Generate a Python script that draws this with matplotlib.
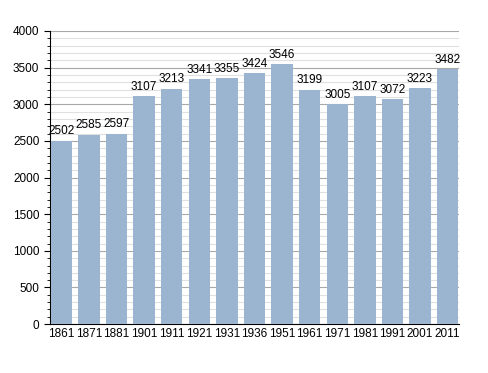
import matplotlib.pyplot as plt
from matplotlib.ticker import MultipleLocator

plt.rcParams['font.family'] = ['Liberation Sans', 'DejaVu Sans']

years = ['1861', '1871', '1881', '1901', '1911', '1921', '1931', '1936',
         '1951', '1961', '1971', '1981', '1991', '2001', '2011']
population = [2502, 2585, 2597, 3107, 3213, 3341, 3355, 3424,
              3546, 3199, 3005, 3107, 3072, 3223, 3482]

fig = plt.figure(figsize=(4.88, 3.73), dpi=100)
ax = fig.add_axes([0.102, 0.131, 0.839, 0.786])

x = range(len(years))
ax.bar(x, population, width=0.78, color='#9bb4cf', zorder=3)
for i, v in zip(x, population):
    ax.text(i, v + 45, str(v), ha='center', va='bottom', fontsize=8.5, zorder=4)

ax.set_ylim(0, 4000)
ax.set_xlim(-0.42, 14.42)
ax.yaxis.set_major_locator(MultipleLocator(500))
ax.yaxis.set_minor_locator(MultipleLocator(100))
ax.grid(axis='y', which='major', color='#a8a8a8', linewidth=0.8, zorder=0)
ax.grid(axis='y', which='minor', color='#e0e0e0', linewidth=0.8, zorder=0)
ax.set_xticks(list(x))
ax.set_xticklabels(years)
ax.tick_params(axis='x', length=0, labelsize=8.5, pad=3)
ax.tick_params(axis='y', which='major', length=4, labelsize=8.5)
ax.tick_params(axis='y', which='minor', length=2)
ax.spines['top'].set_visible(False)
ax.spines['right'].set_visible(False)

fig.savefig('out.png', dpi=100)
